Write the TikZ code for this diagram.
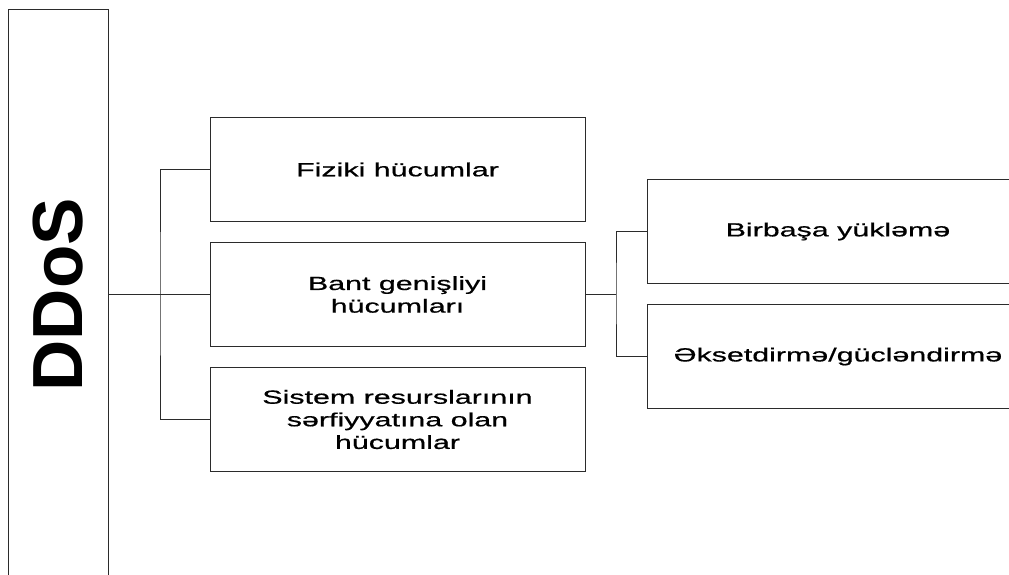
\documentclass[tikz,border=0pt]{standalone}
\usepackage{fontspec}
\usepackage{graphicx}
\usepackage{xcolor}
\usepackage{tikz}
\usetikzlibrary{positioning,calc}
\newfontfamily\boxfont[FakeStretch=1.6,FakeBold=0.6]{Liberation Sans}
\newfontfamily\titlefont{Liberation Sans}
\definecolor{TreeLine}{HTML}{2B2B2B}
\tikzset{
  catbox/.style={draw=TreeLine,line width=1pt,align=center,minimum width=375pt,minimum height=104pt,inner sep=2pt,font=\boxfont\fontsize{19}{22.6}\selectfont},
  leafbox/.style={catbox,minimum width=382pt},
  titlebox/.style={draw=TreeLine,line width=1pt,minimum width=99.5pt,minimum height=570.5pt,inner sep=0pt,font=\titlefont\bfseries\fontsize{71}{71}\selectfont},
  treelink/.style={line width=0.9pt,draw=TreeLine}
}
\begin{document}
\begin{tikzpicture}[x=1pt,y=-1pt,node distance=20pt]
  \clip (0,0) rectangle (1009,574);
  \fill[white] (0,0) rectangle (1009,574);
  \node[titlebox] (ddos) at (58.25,294.75) {\rotatebox{90}{DDoS}};

  \node[catbox] (phys) at (397.5,169.5) {Fiziki hücumlar};
  \node[catbox,below=of phys] (band) {Bant genişliyi\\hücumları};
  \node[catbox,below=of band] (sysres) {Sistem resurslarının\\sərfiyyatına olan\\hücumlar};
  \coordinate (lbus) at (160,293);
  \draw[treelink] (ddos.east |- band.west)--(band.west);
  \draw[treelink] (phys.west) -| (lbus) |- (sysres.west);

  \node[leafbox] (direct) at (838,231.5) {Birbaşa yükləmə};
  \node[leafbox,below=of direct] (reflect) {Əksetdirmə/gücləndirmə};
  \coordinate (rbus) at (616,293);
  \draw[treelink] (band.east)--(band.east -| rbus);
  \draw[treelink] (direct.west) -| (rbus) |- (reflect.west);
\end{tikzpicture}
\end{document}
